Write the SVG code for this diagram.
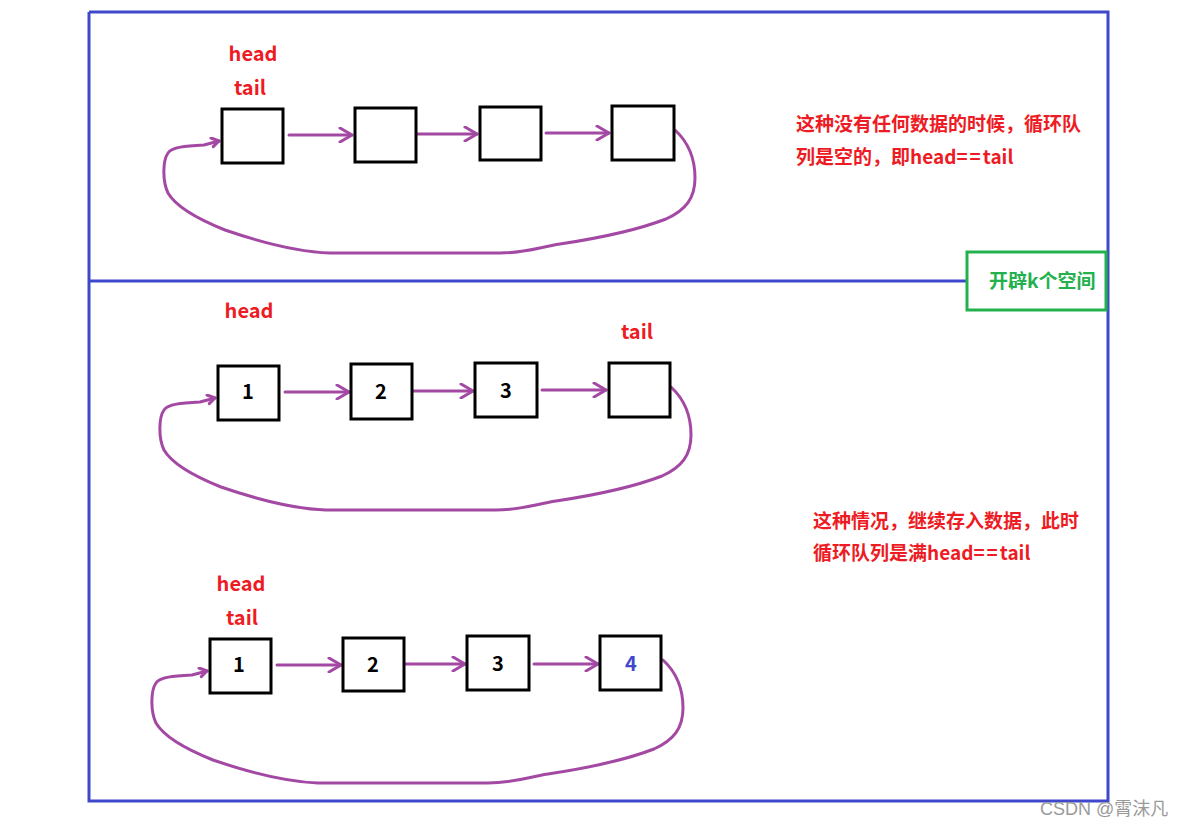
<svg xmlns="http://www.w3.org/2000/svg" width="1188" height="828" viewBox="0 0 1188 828">
<defs>
<style>
.frame{fill:none;stroke:#3F48CC;stroke-width:3}
.box{fill:#fff;stroke:#000;stroke-width:3}
.arr{fill:none;stroke:#A349A4;stroke-width:3;stroke-linecap:round;stroke-linejoin:round}
.lbl{font-family:"Noto Sans CJK SC","Liberation Sans",sans-serif;font-weight:bold;font-size:20px;fill:#ED1C24;text-anchor:middle}
.num{font-family:"Noto Sans CJK SC","Liberation Sans",sans-serif;font-weight:bold;font-size:20px;fill:#000;text-anchor:middle}
.note{font-family:"Noto Sans CJK SC",sans-serif;font-weight:bold;font-size:19px;fill:#ED1C24}
.eq{letter-spacing:2px}
</style>
<marker id="ah" viewBox="0 0 16 16" refX="14" refY="8" markerWidth="16" markerHeight="16" markerUnits="userSpaceOnUse" orient="auto">
<path d="M2 1 L14 8 L2 15" fill="none" stroke="#A349A4" stroke-width="3" stroke-linecap="round" stroke-linejoin="round"/>
</marker>
<marker id="ah2" viewBox="0 0 12 12" refX="10" refY="6" markerWidth="12" markerHeight="12" markerUnits="userSpaceOnUse" orient="auto">
<path d="M3 1 L10 6 L3 10" fill="none" stroke="#A349A4" stroke-width="3" stroke-linecap="round" stroke-linejoin="round"/>
</marker>
<path id="loop" d="M 675 130 C 688 142, 695 158, 695 178 C 695 198, 686 210, 666 219 C 640 229, 600 238, 560 244 C 540 247, 525 253, 500 253 L 330 253 C 300 252, 260 242, 225 230 C 195 218, 175 205, 168 193 C 162 180, 163 160, 168 153 C 172 147, 185 146, 204 145 L 219 141"/>
</defs>
<rect width="1188" height="828" fill="#fff"/>

<g id="frames">
<path class="frame" d="M89 12 H1108 V801 H89 V281 M89 12 V281 H967"/>
<rect x="967" y="252" width="139" height="58" fill="#fff" stroke="#22B14C" stroke-width="3"/>
<text x="989" y="288" font-family="Noto Sans CJK SC, sans-serif" font-weight="bold" font-size="19" fill="#22B14C">开辟k个空间</text>
</g>

<g id="connectors">
<line class="arr" x1="289" y1="135" x2="352" y2="135" marker-end="url(#ah)"/>
<line class="arr" x1="418" y1="134" x2="477" y2="134" marker-end="url(#ah)"/>
<line class="arr" x1="546" y1="133" x2="609" y2="133" marker-end="url(#ah)"/>
<use href="#loop" class="arr" marker-end="url(#ah2)"/>
<line class="arr" x1="285" y1="392" x2="349" y2="392" marker-end="url(#ah)"/>
<line class="arr" x1="413" y1="391" x2="473" y2="391" marker-end="url(#ah)"/>
<line class="arr" x1="542" y1="390" x2="606" y2="390" marker-end="url(#ah)"/>
<use href="#loop" class="arr" transform="translate(-4,257)" marker-end="url(#ah2)"/>
<line class="arr" x1="277" y1="665" x2="341" y2="665" marker-end="url(#ah)"/>
<line class="arr" x1="405" y1="664" x2="465" y2="664" marker-end="url(#ah)"/>
<line class="arr" x1="534" y1="664" x2="598" y2="664" marker-end="url(#ah)"/>
<use href="#loop" class="arr" transform="translate(-12,530)" marker-end="url(#ah2)"/>
</g>

<g id="s1-n1"><rect class="box" x="222" y="109" width="61" height="54"/></g>
<g id="s1-n2"><rect class="box" x="355" y="108" width="61" height="54"/></g>
<g id="s1-n3"><rect class="box" x="480" y="107" width="61" height="53"/></g>
<g id="s1-n4"><rect class="box" x="612" y="106" width="62" height="54"/></g>
<g id="s1-labels">
<text class="lbl" x="253" y="61">head</text>
<text class="lbl" x="250" y="95">tail</text>
<text class="note" x="796" y="131">这种没有任何数据的时候，循环队</text>
<text class="note" x="796" y="164">列是空的，即head<tspan class="eq">==</tspan>tail</text>
</g>

<g id="s2-n1"><rect class="box" x="218" y="366" width="61" height="54"/><text class="num" x="248" y="399">1</text></g>
<g id="s2-n2"><rect class="box" x="351" y="364" width="61" height="55"/><text class="num" x="381" y="399">2</text></g>
<g id="s2-n3"><rect class="box" x="475" y="363" width="62" height="54"/><text class="num" x="506" y="398">3</text></g>
<g id="s2-n4"><rect class="box" x="609" y="363" width="61" height="54"/></g>
<g id="s2-labels">
<text class="lbl" x="249" y="318">head</text>
<text class="lbl" x="637" y="339">tail</text>
<text class="note" x="813" y="528">这种情况，继续存入数据，此时</text>
<text class="note" x="813" y="560">循环队列是满head<tspan class="eq">==</tspan>tail</text>
</g>

<g id="s3-n1"><rect class="box" x="210" y="639" width="61" height="54"/><text class="num" x="239" y="672">1</text></g>
<g id="s3-n2"><rect class="box" x="343" y="638" width="61" height="53"/><text class="num" x="373" y="672">2</text></g>
<g id="s3-n3"><rect class="box" x="467" y="636" width="62" height="54"/><text class="num" x="498" y="671">3</text></g>
<g id="s3-n4"><rect class="box" x="600" y="636" width="61" height="54"/><text class="num" x="631" y="671" style="fill:#3F48CC">4</text></g>
<g id="s3-labels">
<text class="lbl" x="241" y="591">head</text>
<text class="lbl" x="242" y="625">tail</text>
</g>

<text x="1040" y="815" font-family="Liberation Sans, Noto Sans CJK SC, sans-serif" font-size="18" fill="#9a9a9a">CSDN @霄沫凡</text>
</svg>
